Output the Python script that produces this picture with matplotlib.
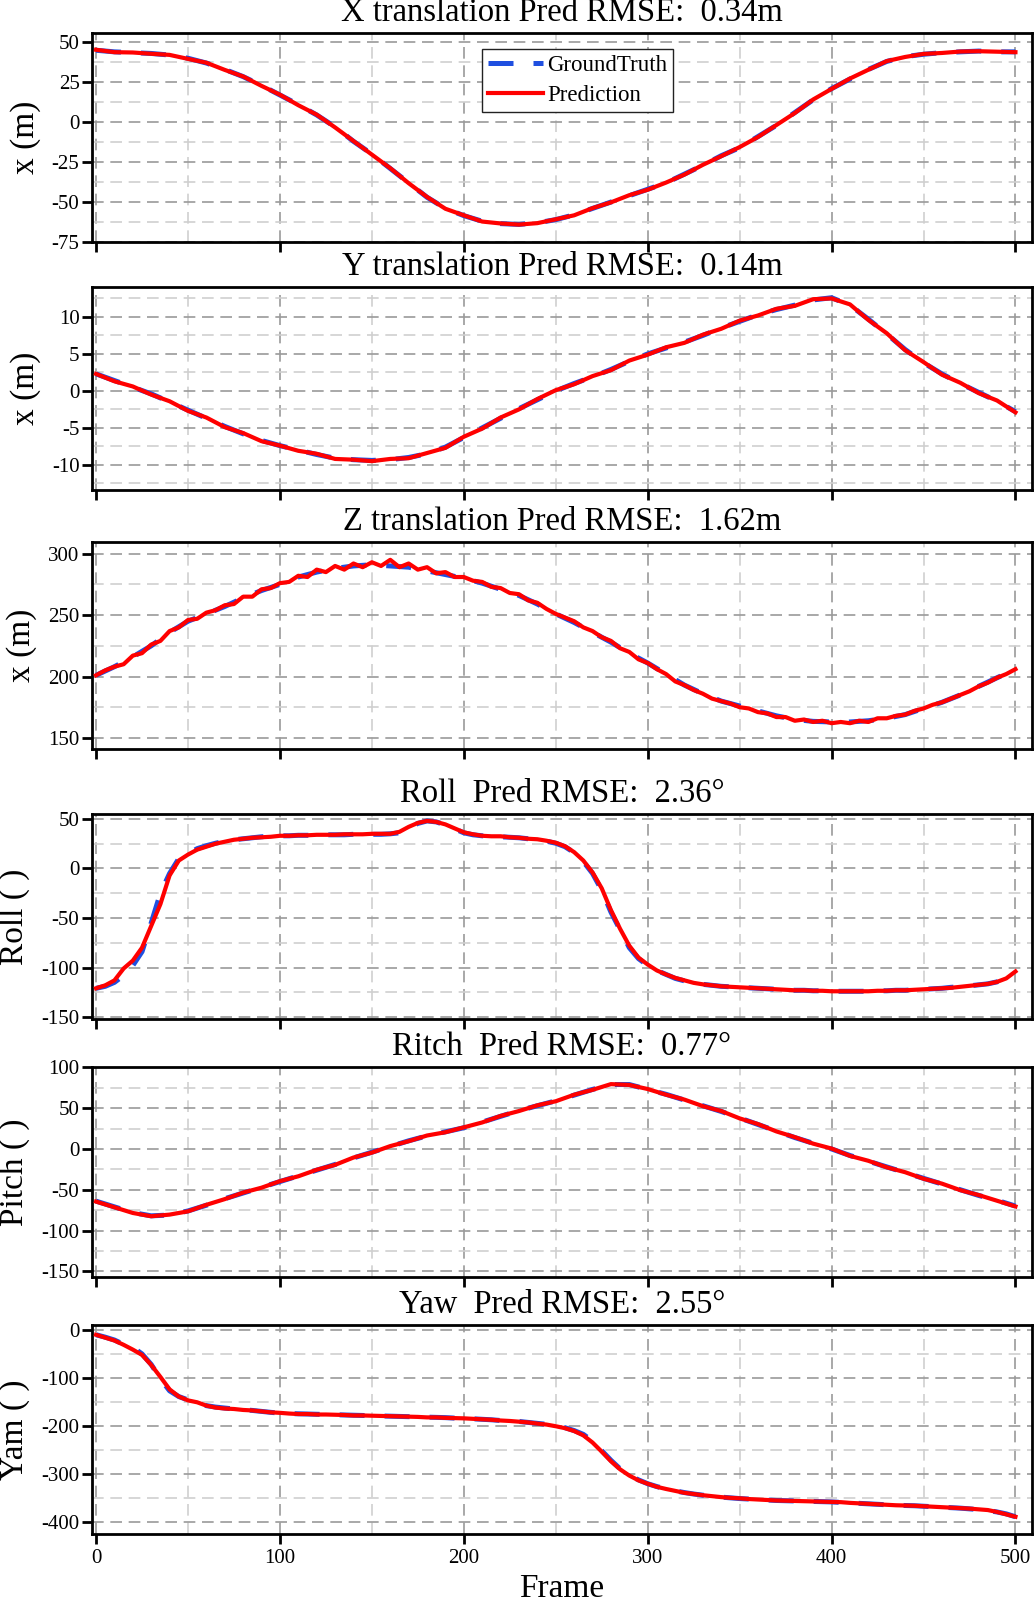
import numpy as np
import matplotlib
matplotlib.use('Agg')
import matplotlib.pyplot as plt
from matplotlib.ticker import MultipleLocator

plt.rcParams['font.family'] = ['Liberation Serif', 'Noto Sans CJK SC']
plt.rcParams['axes.unicode_minus'] = False

W, H = 1034, 1604

# フレーム番号
frame10 = np.arange(0, 501, 10)
frame5 = np.arange(0, 501, 5)

# X translation
x_gt = [45, 44, 43.5, 43, 42, 40, 37, 33, 28.5, 23,
        17, 11, 4.5, -3, -12, -20, -29, -38, -47, -54,
        -58.5, -62, -63.5, -64, -63, -61, -58, -54, -50, -46,
        -42, -38, -32.5, -27, -21, -16, -9, -2, 6, 14,
        21, 27, 33, 38, 41, 42.5, 43.5, 44, 44.5, 44,
        44]
x_pred = [45.3, 43.8, 43.6, 42.8, 42.1, 39.6, 37.2, 32.7, 28.6, 22.7,
          17.2, 10.6, 4.7, -3.3, -11.8, -20.3, -28.8, -38.2, -46.8, -54.2,
          -58.3, -62.2, -63.4, -64.1, -63.2, -60.8, -58.3, -53.8, -50.2, -45.7,
          -42.3, -37.8, -32.8, -26.7, -21.3, -15.6, -9.3, -1.8, 5.7, 14.2,
          20.8, 27.3, 32.8, 38.2, 40.8, 42.7, 43.3, 44.2, 44.4, 44.1,
          43.8]

# Y translation
y_gt = [2.3, 1.4, 0.5, -0.4, -1.5, -2.6, -3.7, -4.8, -5.8, -6.7,
        -7.4, -8.0, -8.6, -9.1, -9.3, -9.4, -9.3, -9.0, -8.5, -7.6,
        -6.3, -5.0, -3.7, -2.4, -1.2, 0.0, 1.0, 1.9, 2.9, 4.0,
        5.0, 5.8, 6.6, 7.5, 8.5, 9.4, 10.3, 11.0, 11.6, 12.3,
        12.6, 11.6, 9.7, 7.7, 5.6, 3.8, 2.3, 1.0, -0.2, -1.4,
        -2.8]
y_pred = [2.3, 1.3, 0.6, -0.5, -1.4, -2.7, -3.6, -4.9, -5.7, -6.8,
          -7.4, -8.1, -8.5, -9.2, -9.3, -9.5, -9.2, -9.1, -8.4, -7.7,
          -6.2, -5.1, -3.6, -2.5, -1.1, 0.1, 0.9, 2.0, 2.8, 4.1,
          4.9, 5.9, 6.5, 7.6, 8.4, 9.5, 10.2, 11.1, 11.5, 12.4,
          12.5, 11.7, 9.6, 7.8, 5.5, 3.9, 2.2, 1.1, -0.3, -1.3,
          -2.9]

# Z translation
z_gt = [201, 208, 216, 225, 236, 245, 251, 257, 264, 270,
        275, 281, 285, 288, 290, 291, 290, 289, 286, 283,
        280, 276, 271, 266, 259, 251, 244, 236, 228, 219,
        211, 202, 193, 186, 180, 176, 172, 168, 165, 163.5,
        163, 163, 164, 166, 169, 174, 179, 185, 192, 199,
        206]
z_pred = [201, 205, 208, 210, 217, 219, 226, 229, 237, 240,
          246, 247, 252, 254, 258, 259, 265, 265, 271, 272,
          276, 277, 282, 281, 287, 285, 290, 287, 292, 289,
          293, 290, 295, 289, 292, 287, 289, 284, 285, 281,
          281, 278, 277, 273, 272, 268, 267, 262, 260, 255,
          251, 248, 245, 240, 237, 232, 229, 223, 220, 214,
          211, 206, 202, 196, 193, 189, 186, 182, 180, 178,
          175, 174, 171, 170, 167, 167, 164, 165, 163, 164,
          162, 163, 162, 164, 163, 166, 166, 168, 169, 172,
          174, 177, 179, 182, 185, 188, 192, 195, 199, 202,
          206]

# Roll
roll_gt = [-121, -119, -115, -108, -98, -84, -55, -25, -5, 10,
           15, 20, 23, 25.5, 27.5, 29, 30, 31, 32, 32.5,
           33, 33, 33.5, 33.5, 33.5, 34, 34, 34, 34.5, 34.5,
           34.5, 34.5, 35, 36, 41, 45.5, 48, 47, 44, 40,
           36, 34, 33, 32.5, 32, 31.5, 31, 30, 29, 27.5,
           25.5, 22, 16, 7, -5, -22, -44, -62, -80, -91,
           -98, -103, -107, -111, -113.5, -115.5, -117, -118, -119, -119.5,
           -120, -120.5, -121, -121.5, -122, -122.5, -123, -123, -123.5, -123.5,
           -124, -124, -124, -124, -124, -123.5, -123.5, -123, -123, -122.5,
           -122, -121.5, -121, -120, -119.5, -118.5, -117.5, -116.5, -114.5, -111,
           -105]
roll_pred = [-121, -118, -113, -101, -93, -80, -58, -36, -7, 8,
             14, 19, 22, 25, 27, 29, 30, 31, 31.5, 32,
             33, 33, 33.5, 33.5, 34, 34, 34, 34.5, 34.5, 34.5,
             35, 35, 35, 37, 42, 46, 48, 47, 44.5, 40.5,
             36.5, 34.5, 33, 32.5, 32.5, 31.5, 31, 30, 29.5, 28,
             26, 22.5, 16.5, 8, -4, -20, -42, -61, -78, -90,
             -97, -103, -107, -110.5, -113, -115.5, -117, -118, -119, -119.5,
             -120, -120.5, -121, -121.5, -122, -122.5, -123, -123, -123.5, -123.5,
             -124, -124, -124, -124, -124, -123.5, -123.5, -123, -123, -122.5,
             -122, -121.5, -121, -120.5, -119.5, -118.5, -117.5, -116.5, -114.5, -111,
             -104]

# Pitch
pitch_gt = [-64, -71, -78, -82, -81, -76, -69, -61, -54, -47,
            -40, -33, -26, -19, -11, -4, 3, 10, 16, 21,
            26, 33, 40, 47, 53, 59, 66, 73, 79, 79,
            73, 67, 60, 53, 46, 38, 30, 22, 14, 7,
            0, -8, -15, -22, -29, -36, -43, -50, -57, -63,
            -70]
pitch_pred = [-64.5, -71.5, -78.5, -82.5, -80.5, -76.5, -68.5, -61.5, -53.5, -47.5,
              -39.5, -33.5, -25.5, -19.5, -10.5, -4.5, 3.5, 9.5, 16.5, 20.5,
              26.5, 32.5, 40.5, 46.5, 53.5, 58.5, 66.5, 72.5, 79.5, 78.5,
              73.5, 66.5, 60.5, 52.5, 46.5, 37.5, 30.5, 21.5, 14.5, 6.5,
              0.5, -8.5, -14.5, -22.5, -28.5, -36.5, -42.5, -50.5, -56.5, -63.5,
              -70.5]

# Yaw
yaw_gt = [-10, -15, -21, -30, -36, -50, -72, -102, -127, -139,
          -146, -153, -158, -161, -163, -165, -166.5, -168, -170, -172,
          -173.5, -174.5, -175, -175.5, -176, -176.5, -177, -177.5, -178, -178.5,
          -179, -179.5, -180, -180.5, -181, -181.5, -182, -182.5, -183, -184,
          -184.5, -185.5, -186.5, -187.5, -189, -190, -191, -193, -195, -197,
          -200, -204, -210, -218, -232, -252, -272, -290, -303, -313,
          -321, -327, -332, -336, -339.5, -342.5, -345, -347, -349, -350.5,
          -352, -353, -354, -355, -356, -356.5, -357, -357.5, -358, -358.5,
          -359, -360, -361, -362, -363, -364, -365, -366, -366.5, -367,
          -368, -369, -370, -371, -372, -373.5, -375, -377, -380, -384,
          -390]
yaw_pred = [-10, -16, -22, -31, -41, -52, -73, -98, -124, -139,
            -147, -151, -158, -162, -164, -165, -167, -168, -170, -172,
            -173, -174.5, -175.5, -175.5, -176.5, -176.5, -177, -177.5, -178.5, -178.5,
            -179, -179.5, -180, -180.5, -181, -181.5, -182.5, -182.5, -183.5, -184,
            -184.5, -185.5, -186.5, -187.5, -189, -190, -191.5, -193, -195.5, -197.5,
            -201, -205, -211, -220, -235, -254, -274, -291, -304, -314,
            -321, -327.5, -332, -336, -340, -342.5, -345, -347, -349, -350.5,
            -351.5, -353, -354, -355, -356, -356.5, -357, -357.5, -358, -358.5,
            -359, -359.5, -361, -362, -363, -364, -365, -366, -366.5, -367,
            -368, -369, -370, -371, -372, -373, -374.5, -376, -380, -385,
            -390]

titles = ['X translation Pred RMSE:  0.34m',
          'Y translation Pred RMSE:  0.14m',
          'Z translation Pred RMSE:  1.62m',
          'Roll  Pred RMSE:  2.36°',
          'Ritch  Pred RMSE:  0.77°',
          'Yaw  Pred RMSE:  2.55°']
ylabels = ['x (m)', 'x (m)', 'x (m)', 'Roll ( )', 'Pitch ( )', 'Yam ( )']

panels = [
    (frame10, x_gt, frame10, x_pred, (-75, 55.8), 25, 12.5),
    (frame10, y_gt, frame10, y_pred, (-13.4, 14.05), 5, 2.5),
    (frame10, z_gt, frame5, z_pred, (141, 309.5), 50, 25),
    (frame5, roll_gt, frame5, roll_pred, (-152, 55), 50, 25),
    (frame10, pitch_gt, frame10, pitch_pred, (-157, 100.5), 50, 25),
    (frame5, yaw_gt, frame5, yaw_pred, (-426, 10.4), 100, 50),
]
# 各パネルの上下位置 (px)
boxes = [(33, 242), (287, 490), (542, 749), (814, 1019), (1067, 1277), (1325, 1534)]
LEFT, RIGHT = 92, 1032

fig = plt.figure(figsize=(W / 100, H / 100), dpi=100)

for i, (fg, gt, fp, pred, ylim, major, minor) in enumerate(panels):
    top, bot = boxes[i]
    ax = fig.add_axes([LEFT / W, 1 - bot / H, (RIGHT - LEFT) / W, (bot - top) / H])
    ax.plot(fg, gt, color='#1f4fe0', lw=3.6, ls=(0, (5, 4)), label='GroundTruth', zorder=3)
    ax.plot(fp, pred, color='#ff0000', lw=3.0, label='Prediction', zorder=4)
    ax.set_xlim(-2.2, 509)
    ax.set_ylim(*ylim)
    ax.xaxis.set_major_locator(MultipleLocator(100))
    ax.xaxis.set_minor_locator(MultipleLocator(50))
    ax.yaxis.set_major_locator(MultipleLocator(major))
    ax.yaxis.set_minor_locator(MultipleLocator(minor))
    ax.grid(which='major', color='#9a9a9a', ls=(0, (7, 4)), lw=1.2, zorder=0)
    ax.grid(which='minor', color='#cfcfcf', ls=(0, (7, 4)), lw=1.2, zorder=0)
    ax.set_axisbelow(True)
    for s in ax.spines.values():
        s.set_linewidth(2)
    ax.tick_params(which='major', direction='out', length=7, width=2,
                   labelsize=15, pad=2, top=False, right=False)
    ax.tick_params(axis='x', pad=4)
    ax.tick_params(which='minor', length=0)
    if i < 5:
        ax.tick_params(axis='x', labelbottom=False)
    ax.set_title(titles[i], fontsize=23.5, pad=8.6)
    ax.set_ylabel(ylabels[i], fontsize=24, labelpad=8)
    if i == 0:
        ax.legend(loc='upper left', bbox_to_anchor=(0.415, 0.923), borderaxespad=0,
                  fontsize=16.5, fancybox=False, framealpha=1, edgecolor='#222222',
                  handlelength=2.4, handletextpad=0.2, borderpad=0.25, labelspacing=0.4)
    if i == 5:
        ax.set_xlabel('Frame', fontsize=24, labelpad=4)

fig.savefig('out.png', dpi=100)
